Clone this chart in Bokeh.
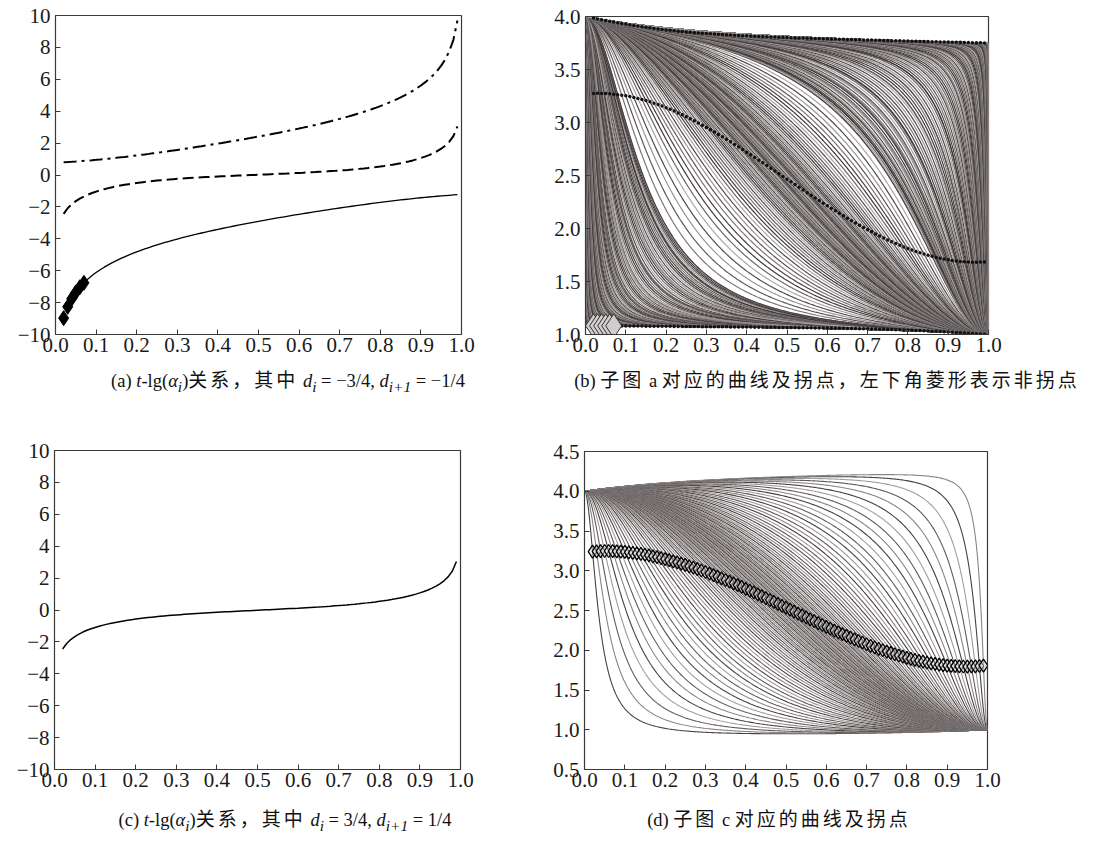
import numpy as np
from numpy.polynomial import Polynomial as Poly
from bokeh.plotting import figure
from bokeh.layouts import column, row
from bokeh.models import Div, FixedTicker, Range1d
from bokeh.embed import file_html
from bokeh.resources import INLINE

# ---------------- data (from the captions / axes of the reference) ----------------
f_left, f_right = 4.0, 1.0            # interpolated values at the interval ends
d_case_a = (-0.75, -0.25)             # d_i, d_{i+1}  (panels a, b)
d_case_c = (0.75, 0.25)               # d_i, d_{i+1}  (panels c, d)
t_values = [round(0.02 + 0.01 * k, 2) for k in range(98)]    # inflection positions t
non_inflection_t = [0.02, 0.03, 0.04, 0.05, 0.06, 0.07]      # lower-left diamonds

x_ticks = [0.0, 0.1, 0.2, 0.3, 0.4, 0.5, 0.6, 0.7, 0.8, 0.9, 1.0]
x_labels = ["0.0", "0.1", "0.2", "0.3", "0.4", "0.5", "0.6", "0.7", "0.8", "0.9", "1.0"]
ya_ticks = [-10, -8, -6, -4, -2, 0, 2, 4, 6, 8, 10]
ya_labels = ["\u221210", "\u22128", "\u22126", "\u22124", "\u22122", "0", "2", "4", "6", "8", "10"]
yb_ticks = [1.0, 1.5, 2.0, 2.5, 3.0, 3.5, 4.0]
yb_labels = ["1.0", "1.5", "2.0", "2.5", "3.0", "3.5", "4.0"]
yd_ticks = [0.5, 1.0, 1.5, 2.0, 2.5, 3.0, 3.5, 4.0, 4.5]
yd_labels = ["0.5", "1.0", "1.5", "2.0", "2.5", "3.0", "3.5", "4.0", "4.5"]

CJK = '<span style="font-family:\'Noto Sans CJK SC\';font-size:19px;letter-spacing:3px">%s</span>'
cap_a = ('(a) <i>t</i>-lg(<i>\u03b1<sub>i</sub></i>)' + CJK % '\u5173\u7cfb\uff0c\u5176\u4e2d' +
         ' <i>d<sub>i</sub></i> = \u22123/4, <i>d<sub>i+1</sub></i> = \u22121/4')
cap_b = ('(b) ' + CJK % '\u5b50\u56fe' + ' a ' +
         CJK % '\u5bf9\u5e94\u7684\u66f2\u7ebf\u53ca\u62d0\u70b9\uff0c\u5de6\u4e0b\u89d2\u83f1\u5f62\u8868\u793a\u975e\u62d0\u70b9')
cap_c = ('(c) <i>t</i>-lg(<i>\u03b1<sub>i</sub></i>)' + CJK % '\u5173\u7cfb\uff0c\u5176\u4e2d' +
         ' <i>d<sub>i</sub></i> = 3/4, <i>d<sub>i+1</sub></i> = 1/4')
cap_d = ('(d) ' + CJK % '\u5b50\u56fe' + ' c ' +
         CJK % '\u5bf9\u5e94\u7684\u66f2\u7ebf\u53ca\u62d0\u70b9')

grays_b = ["#4a4242", "#7d7676", "#5e5757", "#999393", "#524b4b", "#aaa5a5", "#6b6464", "#3f3838"]
grays_d = ["#4a4040", "#8a8484", "#625a5a", "#a19c9c"]

# ---------------- rational cubic model (weights alpha, alpha, 1, 1) ----------------
th = Poly([0.0, 1.0])
om = Poly([1.0, -1.0])


def ctrl(d):
    return (f_left, f_left + d[0] / 3.0, f_right - d[1] / 3.0, f_right)


def parts(P):
    A = om ** 3 * P[0] + 3 * th * om ** 2 * P[1]
    B = 3 * th ** 2 * om * P[2] + th ** 3 * P[3]
    C = om ** 3 + 3 * th * om ** 2
    E = 3 * th ** 2 * om + th ** 3
    return A, B, C, E


def ev(Q, k, t):
    return (Q.deriv(k) if k else Q)(t)


def inflection_alphas(d, t):
    A, B, C, E = parts(ctrl(d))
    N = [np.poly1d([ev(A, k, t), ev(B, k, t)]) for k in range(3)]
    D = [np.poly1d([ev(C, k, t), ev(E, k, t)]) for k in range(3)]
    F = (N[2] * D[0] - N[0] * D[2]) * D[0] - 2 * D[1] * (N[1] * D[0] - N[0] * D[1])
    r = np.roots(F.coeffs)
    r = np.sort(r[(np.abs(r.imag) < 1e-9 * np.abs(r)) & (r.real > 0)].real)
    return r


def S(theta, alpha, d):
    P = ctrl(d)
    w = 1.0 - theta
    N = alpha * (w ** 3 * P[0] + 3 * theta * w ** 2 * P[1]) + 3 * theta ** 2 * w * P[2] + theta ** 3 * P[3]
    D = alpha * (w ** 2 * (1 + 2 * theta)) + theta ** 2 * (3 - 2 * theta)
    return N / D


tv = np.array(t_values)
roots_a = [inflection_alphas(d_case_a, t) for t in tv]
lg_solid = np.array([np.log10(r[0]) if len(r) >= 1 else np.nan for r in roots_a])
lg_dash = np.array([np.log10(r[1]) if len(r) >= 2 else np.nan for r in roots_a])
lg_dashdot = np.array([np.log10(r[2]) if len(r) >= 3 else np.nan for r in roots_a])
roots_c = [inflection_alphas(d_case_c, t) for t in tv]
lg_c = np.array([np.log10(r[0]) if len(r) >= 1 else np.nan for r in roots_c])

theta = np.unique(np.concatenate([np.linspace(0, 1, 320),
                                  np.geomspace(1e-7, 0.06, 70),
                                  1 - np.geomspace(1e-7, 0.06, 70)]))

FONT = "Liberation Serif"
EDGE = "#3a3a3a"


def make_fig(width, height, left, right, top, bottom, yr, yt, yl):
    p = figure(width=width, height=height, x_range=Range1d(0, 1), y_range=Range1d(*yr),
               output_backend="svg", toolbar_location=None,
               min_border_left=left, min_border_right=right,
               min_border_top=top, min_border_bottom=bottom)
    p.grid.visible = False
    p.outline_line_color = EDGE
    p.outline_line_width = 1.2
    p.background_fill_color = "white"
    p.border_fill_color = "white"
    for ax in (p.xaxis[0], p.yaxis[0]):
        ax.major_tick_in = 5
        ax.major_tick_out = 0
        ax.minor_tick_line_color = None
        ax.axis_line_color = EDGE
        ax.major_tick_line_color = EDGE
        ax.major_label_text_font = FONT
        ax.major_label_text_font_size = "21px"
        ax.major_label_text_color = "#1a1a1a"
    p.xaxis[0].ticker = FixedTicker(ticks=x_ticks)
    p.xaxis[0].major_label_overrides = dict(zip(x_ticks, x_labels))
    p.xaxis[0].major_label_standoff = 3
    p.yaxis[0].ticker = FixedTicker(ticks=yt)
    p.yaxis[0].major_label_overrides = dict(zip(yt, yl))
    p.yaxis[0].major_label_standoff = 5
    return p


def caption(html, width, height, pad_left, pad_top):
    style = ("box-sizing:border-box;width:%dpx;padding-left:%dpx;padding-top:%dpx;"
             "font-family:'Liberation Serif','Noto Sans CJK SC',serif;"
             "font-size:18.5px;line-height:22px;white-space:nowrap;color:#111;text-align:center;"
             % (width, pad_left, pad_top))
    return Div(text='<div style="%s">%s</div>' % (style, html), width=width, height=height, margin=0)


# ---------------- panel (a) ----------------
pa = make_fig(538, 364, 55, 77, 15, 30, (-10, 10), ya_ticks, ya_labels)
mask_line = tv >= 0.07 - 1e-9
pa.line(tv[mask_line], lg_solid[mask_line], line_color="black", line_width=1.3)
pa.line(tv, lg_dash, line_color="black", line_width=2, line_dash="11 5")
pa.line(tv, lg_dashdot, line_color="black", line_width=2, line_dash="13 5 3 5")
ni = np.isin(np.round(tv, 2), non_inflection_t)
pa.scatter(tv[ni], lg_solid[ni], marker="diamond", size=15, fill_color="black", line_color="black")

# ---------------- panel (b) ----------------
pb = make_fig(470, 364, 47, 20, 16, 30, (1.0, 4.0), yb_ticks, yb_labels)
xs, ys, cs = [], [], []
k = 0
for lg in (lg_solid, lg_dash, lg_dashdot):
    for v in lg:
        if np.isfinite(v):
            xs.append(theta)
            ys.append(S(theta, 10.0 ** v, d_case_a))
            cs.append(grays_b[k % len(grays_b)])
            k += 1
pb.multi_line(xs, ys, line_color=cs, line_width=1.2)
for lg in (lg_dash, lg_dashdot):
    pb.scatter(tv, S(tv, 10.0 ** lg, d_case_a), marker="circle", size=3.5,
               fill_color="#111111", line_color=None)
pb.scatter(tv[~ni], S(tv[~ni], 10.0 ** lg_solid[~ni], d_case_a), marker="circle", size=3.5,
           fill_color="#111111", line_color=None)
pb.scatter(tv[ni], S(tv[ni], 10.0 ** lg_solid[ni], d_case_a), marker="diamond", size=24,
           fill_color="#d2cdcd", line_color="#333333", line_width=1)

# ---------------- panel (c) ----------------
pc = make_fig(538, 364, 54, 78, 15, 30, (-10, 10), ya_ticks, ya_labels)
pc.line(tv, lg_c, line_color="black", line_width=1.5)

# ---------------- panel (d) ----------------
pd_ = make_fig(470, 364, 46, 21, 16, 30, (0.5, 4.5), yd_ticks, yd_labels)
xs, ys, cs = [], [], []
for k, v in enumerate(lg_c):
    if np.isfinite(v):
        xs.append(theta)
        ys.append(S(theta, 10.0 ** v, d_case_c))
        cs.append(grays_d[k % len(grays_d)])
pd_.multi_line(xs, ys, line_color=cs, line_width=1.1)
pd_.scatter(tv, S(tv, 10.0 ** lg_c, d_case_c), marker="diamond", size=13,
            fill_color="#d8d4d4", fill_alpha=0.5, line_color="black", line_width=1.3)

layout = column(
    row(column(pa, caption(cap_a, 538, 71, 38, 4)), column(pb, caption(cap_b, 560, 71, 18, 4))),
    row(column(pc, caption(cap_c, 538, 44, 32, 8)), column(pd_, caption(cap_d, 470, 44, 12, 8))),
)

open("out.html", "w").write(file_html(layout, INLINE))
